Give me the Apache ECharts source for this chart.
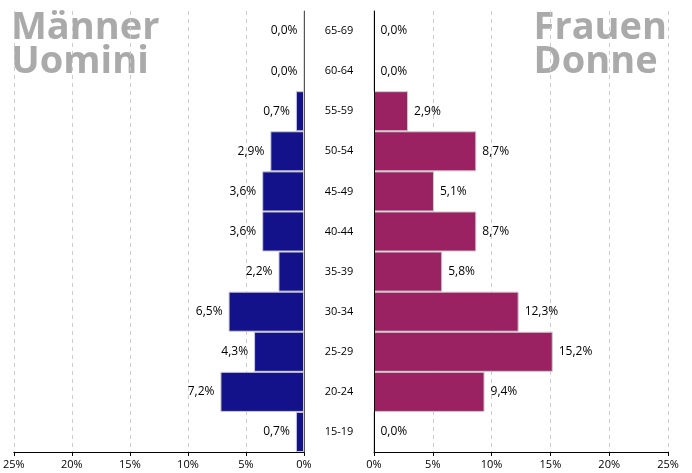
<!DOCTYPE html>
<html>
<head>
<meta charset="utf-8">
<script src="https://cdn.jsdelivr.net/npm/echarts@6/dist/echarts.min.js"></script>
<style>
  html, body { margin: 0; padding: 0; background: #fff; }
  #chart { width: 692px; height: 473px; }
</style>
</head>
<body>
<div id="chart"></div>
<script>
// age groups, bottom to top
const ageGroups = ["15-19", "20-24", "25-29", "30-34", "35-39", "40-44", "45-49", "50-54", "55-59", "60-64", "65-69"];
const menPct = [0.7, 7.2, 4.3, 6.5, 2.2, 3.6, 3.6, 2.9, 0.7, 0.0, 0.0];
const womenPct = [0.0, 9.4, 15.2, 12.3, 5.8, 8.7, 5.1, 8.7, 2.9, 0.0, 0.0];

const font = "'Open Sans', 'Noto Sans', sans-serif";
const pct = (v) => v.toFixed(1).replace(".", ",") + "%";

const chart = echarts.init(document.getElementById("chart"));

const xAxisCommon = {
  type: "value",
  min: 0,
  max: 25,
  interval: 5,
  axisLine: { show: true, lineStyle: { color: "#000", width: 1 } },
  axisTick: { show: true, length: 4, lineStyle: { color: "#000" } },
  axisLabel: { color: "#000", fontSize: 11, fontFamily: font, formatter: (v) => v + "%", margin: 7 },
  splitLine: { show: true, lineStyle: { color: "#ccc", type: [4, 4] } },
};

chart.setOption({
  animation: false,
  graphic: [
    {
      type: "text", left: 11, top: 9, z: -10,
      style: { text: "Männer\nUomini", fill: "#aaa", font: "bold 38px " + font, lineHeight: 34 },
    },
    {
      type: "text", right: 25, top: 9, z: -10,
      style: { text: "Frauen\nDonne", fill: "#aaa", font: "bold 38px " + font, lineHeight: 34, align: "right" },
    },
  ],
  grid: [
    { left: 10, right: 388, top: 11, bottom: 21 },
    { left: 374, right: 24, top: 11, bottom: 21 },
  ],
  xAxis: [
    Object.assign({}, xAxisCommon, { gridIndex: 0, inverse: true }),
    Object.assign({}, xAxisCommon, { gridIndex: 1 }),
  ],
  yAxis: [
    {
      type: "category", gridIndex: 0, data: ageGroups, position: "right", z: 5,
      axisLine: { show: true, lineStyle: { color: "#555" } },
      axisTick: { show: false },
      axisLabel: { show: false },
    },
    {
      type: "category", gridIndex: 1, data: ageGroups, z: 5,
      axisLine: { show: true, lineStyle: { color: "#000" } },
      axisTick: { show: false },
      axisLabel: { color: "#000", fontSize: 11, fontFamily: font, margin: 35, align: "center" },
    },
  ],
  series: [
    {
      name: "Männer", type: "bar", xAxisIndex: 0, yAxisIndex: 0, data: menPct,
      barCategoryGap: 0,
      itemStyle: { color: "#13128a", borderColor: "#ccc", borderWidth: 1 },
      label: { show: true, position: "left", distance: 6, color: "#000", fontSize: 12, fontFamily: font, formatter: (p) => pct(p.value) },
    },
    {
      name: "Frauen", type: "bar", xAxisIndex: 1, yAxisIndex: 1, data: womenPct,
      barCategoryGap: 0,
      itemStyle: { color: "#9a2262", borderColor: "#ccc", borderWidth: 1 },
      label: { show: true, position: "right", distance: 6, color: "#000", fontSize: 12, fontFamily: font, formatter: (p) => pct(p.value) },
    },
  ],
});
</script>
</body>
</html>
